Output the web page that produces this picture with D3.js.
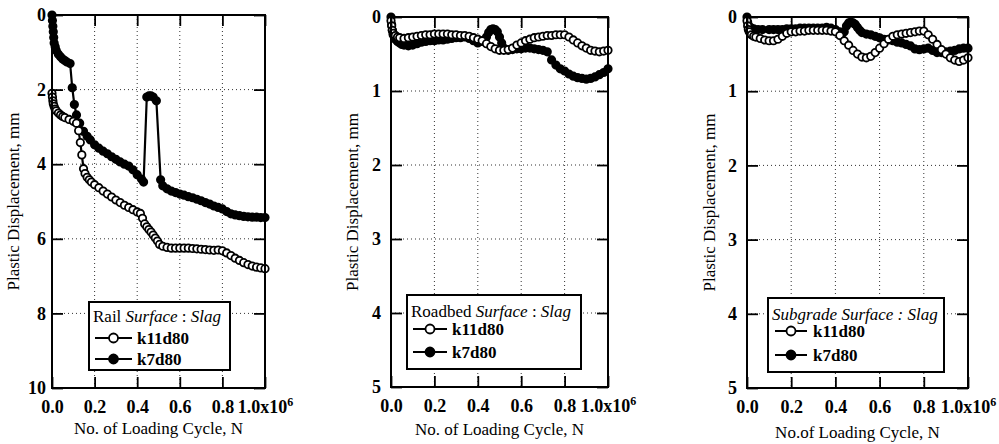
<!DOCTYPE html>
<html>
<head>
<meta charset="utf-8">
<script src="https://cdn.jsdelivr.net/npm/d3@7"></script>
<style>
    body { margin: 0; background: #fff; }
</style>
</head>
<body>
<div id="chart"></div>
<script>
// x values are loading cycles in millions, y values are plastic displacement in mm
const xTicks = [0, 0.2, 0.4, 0.6, 0.8, 1.0];
const railTicks = [0, 2, 4, 6, 8, 10];
const smallTicks = [0, 1, 2, 3, 4, 5];
const seriesNames = ["k11d80", "k7d80"];

// Rail surface
const railK11N = [0, 0.002, 0.004, 0.006, 0.01, 0.015, 0.02, 0.03, 0.04, 0.05, 0.06, 0.08, 0.1, 0.115, 0.125, 0.133, 0.14, 0.148, 0.155, 0.165, 0.175, 0.185, 0.2, 0.22, 0.24, 0.26, 0.28, 0.3, 0.32, 0.34, 0.36, 0.38, 0.4, 0.415, 0.425, 0.435, 0.445, 0.455, 0.465, 0.475, 0.485, 0.495, 0.505, 0.52, 0.54, 0.56, 0.58, 0.6, 0.62, 0.64, 0.66, 0.68, 0.7, 0.72, 0.74, 0.76, 0.78, 0.8, 0.82, 0.84, 0.86, 0.88, 0.9, 0.92, 0.94, 0.96, 0.98, 1.0];
const railK11D = [2.1, 2.2, 2.3, 2.38, 2.45, 2.52, 2.57, 2.63, 2.68, 2.72, 2.75, 2.8, 2.85, 2.9, 3.1, 3.42, 3.75, 4.12, 4.25, 4.35, 4.42, 4.48, 4.55, 4.63, 4.72, 4.8, 4.88, 4.96, 5.03, 5.1, 5.16, 5.22, 5.28, 5.32, 5.45, 5.6, 5.68, 5.75, 5.82, 5.9, 5.98, 6.06, 6.15, 6.2, 6.23, 6.25, 6.25, 6.25, 6.25, 6.25, 6.26, 6.27, 6.28, 6.29, 6.3, 6.31, 6.3, 6.32, 6.38, 6.45, 6.52, 6.58, 6.64, 6.69, 6.73, 6.76, 6.78, 6.8];
const railK7N = [0, 0.002, 0.004, 0.006, 0.008, 0.01, 0.015, 0.02, 0.03, 0.04, 0.05, 0.06, 0.07, 0.085, 0.095, 0.105, 0.115, 0.13, 0.148, 0.165, 0.18, 0.2, 0.22, 0.24, 0.26, 0.28, 0.3, 0.32, 0.34, 0.36, 0.38, 0.4, 0.42, 0.43, 0.445, 0.455, 0.465, 0.475, 0.49, 0.51, 0.52, 0.54, 0.56, 0.58, 0.6, 0.62, 0.64, 0.66, 0.68, 0.7, 0.72, 0.74, 0.76, 0.78, 0.8, 0.82, 0.84, 0.86, 0.88, 0.9, 0.92, 0.94, 0.96, 0.98, 1.0];
const railK7D = [0, 0.15, 0.3, 0.45, 0.6, 0.75, 0.85, 0.95, 1.05, 1.12, 1.18, 1.22, 1.26, 1.3, 1.95, 2.4, 2.68, 2.9, 3.12, 3.25, 3.35, 3.48, 3.57, 3.65, 3.72, 3.8, 3.87, 3.94, 4.0, 4.05, 4.15, 4.28, 4.4, 4.48, 2.2, 2.17, 2.17, 2.2, 2.3, 4.42, 4.58, 4.66, 4.72, 4.76, 4.8, 4.83, 4.87, 4.9, 4.94, 4.98, 5.03, 5.07, 5.12, 5.16, 5.2, 5.27, 5.33, 5.36, 5.38, 5.4, 5.41, 5.42, 5.42, 5.43, 5.43];

// Roadbed surface
const roadK11N = [0, 0.003, 0.006, 0.01, 0.02, 0.03, 0.04, 0.06, 0.08, 0.1, 0.12, 0.14, 0.16, 0.18, 0.2, 0.22, 0.24, 0.26, 0.28, 0.3, 0.32, 0.34, 0.36, 0.38, 0.4, 0.42, 0.44, 0.46, 0.48, 0.5, 0.52, 0.54, 0.56, 0.58, 0.6, 0.62, 0.64, 0.66, 0.68, 0.7, 0.72, 0.74, 0.76, 0.78, 0.8, 0.82, 0.84, 0.86, 0.88, 0.9, 0.92, 0.94, 0.96, 0.98, 1.0];
const roadK11D = [0.05, 0.12, 0.18, 0.22, 0.25, 0.27, 0.28, 0.29, 0.28, 0.27, 0.26, 0.25, 0.24, 0.24, 0.23, 0.23, 0.23, 0.23, 0.24, 0.24, 0.25, 0.25, 0.26, 0.28, 0.3, 0.32, 0.36, 0.4, 0.43, 0.45, 0.45, 0.44, 0.42, 0.38, 0.35, 0.32, 0.3, 0.28, 0.27, 0.26, 0.25, 0.25, 0.24, 0.24, 0.24, 0.27, 0.31, 0.35, 0.39, 0.42, 0.45, 0.46, 0.47, 0.46, 0.45];
const roadK7N = [0, 0.003, 0.006, 0.01, 0.02, 0.03, 0.04, 0.05, 0.06, 0.08, 0.1, 0.12, 0.14, 0.16, 0.18, 0.2, 0.22, 0.24, 0.26, 0.28, 0.3, 0.32, 0.34, 0.36, 0.38, 0.4, 0.42, 0.44, 0.45, 0.46, 0.47, 0.48, 0.49, 0.5, 0.51, 0.52, 0.54, 0.56, 0.58, 0.6, 0.62, 0.64, 0.66, 0.68, 0.7, 0.72, 0.74, 0.76, 0.78, 0.8, 0.82, 0.84, 0.86, 0.88, 0.9, 0.92, 0.94, 0.96, 0.98, 1.0];
const roadK7D = [0, 0.1, 0.18, 0.24, 0.3, 0.33, 0.35, 0.37, 0.38, 0.39, 0.38, 0.36, 0.34, 0.33, 0.32, 0.32, 0.31, 0.31, 0.3, 0.29, 0.28, 0.28, 0.27, 0.29, 0.32, 0.35, 0.33, 0.27, 0.21, 0.17, 0.16, 0.17, 0.2, 0.27, 0.35, 0.42, 0.45, 0.44, 0.43, 0.43, 0.42, 0.42, 0.43, 0.44, 0.45, 0.47, 0.58, 0.65, 0.7, 0.73, 0.77, 0.8, 0.82, 0.83, 0.84, 0.83, 0.81, 0.78, 0.75, 0.7];

// Subgrade surface
const subK11N = [0, 0.003, 0.006, 0.01, 0.02, 0.03, 0.04, 0.06, 0.08, 0.1, 0.12, 0.14, 0.16, 0.18, 0.2, 0.22, 0.24, 0.26, 0.28, 0.3, 0.32, 0.34, 0.36, 0.38, 0.4, 0.42, 0.44, 0.46, 0.48, 0.5, 0.52, 0.54, 0.56, 0.58, 0.6, 0.62, 0.64, 0.66, 0.68, 0.7, 0.72, 0.74, 0.76, 0.78, 0.8, 0.82, 0.84, 0.86, 0.88, 0.9, 0.92, 0.94, 0.96, 0.98, 1.0];
const subK11D = [0.05, 0.12, 0.17, 0.2, 0.24, 0.26, 0.27, 0.29, 0.31, 0.32, 0.32, 0.3, 0.26, 0.22, 0.2, 0.2, 0.19, 0.19, 0.18, 0.18, 0.18, 0.18, 0.18, 0.19, 0.2, 0.25, 0.32, 0.38, 0.45, 0.5, 0.54, 0.55, 0.53, 0.48, 0.42, 0.36, 0.3, 0.26, 0.24, 0.23, 0.22, 0.21, 0.2, 0.19, 0.19, 0.24, 0.3, 0.37, 0.44, 0.5, 0.55, 0.58, 0.6, 0.58, 0.55];
const subK7N = [0, 0.003, 0.006, 0.01, 0.02, 0.03, 0.05, 0.07, 0.1, 0.12, 0.14, 0.16, 0.18, 0.2, 0.22, 0.24, 0.26, 0.28, 0.3, 0.32, 0.34, 0.36, 0.38, 0.4, 0.42, 0.43, 0.44, 0.45, 0.46, 0.47, 0.48, 0.49, 0.5, 0.51, 0.52, 0.54, 0.56, 0.58, 0.6, 0.62, 0.64, 0.66, 0.68, 0.7, 0.72, 0.74, 0.76, 0.78, 0.8, 0.82, 0.84, 0.86, 0.88, 0.9, 0.92, 0.94, 0.96, 0.98, 1.0];
const subK7D = [0, 0.07, 0.11, 0.13, 0.15, 0.16, 0.17, 0.17, 0.17, 0.17, 0.17, 0.17, 0.16, 0.16, 0.16, 0.15, 0.15, 0.15, 0.15, 0.15, 0.15, 0.14, 0.15, 0.17, 0.2, 0.23, 0.2, 0.12, 0.08, 0.07, 0.08, 0.1, 0.14, 0.18, 0.21, 0.23, 0.24, 0.26, 0.28, 0.3, 0.31, 0.32, 0.34, 0.35, 0.37, 0.39, 0.43, 0.44, 0.43, 0.42, 0.45, 0.48, 0.48, 0.47, 0.46, 0.45, 0.43, 0.42, 0.42];

const serif = '"Liberation Serif"';

function init() {
    const width = 999;
    const height = 444;

    const svg = d3.select("#chart")
                  .append("svg")
                  .attr("width", width)
                  .attr("height", height);

    const panels = [
        {
            left: 52, right: 265, top: 15, bottom: 388,
            yMax: 10, yTicks: railTicks, labelGap: 6, yTitleX: 19,
            xTitle: "No. of Loading Cycle, N", xTitleY: 434,
            open: d3.zip(railK11N, railK11D), filled: d3.zip(railK7N, railK7D),
            legend: { x: 89, y: 302, w: 141, h: 68, titleX: 93, titleY: 322, rows: [338, 359], lx0: 95, lx1: 132, tx: 137 },
            legendTitle: [["Rail ", false], ["Surface", true], [" : ", false], ["Slag", true]]
        },
        {
            left: 391, right: 608, top: 17, bottom: 387,
            yMax: 5, yTicks: smallTicks, labelGap: 10, yTitleX: 358,
            xTitle: "No. of Loading Cycle, N", xTitleY: 435,
            open: d3.zip(roadK11N, roadK11D), filled: d3.zip(roadK7N, roadK7D),
            legend: { x: 407, y: 295, w: 174, h: 74, titleX: 411, titleY: 317, rows: [329, 352], lx0: 413, lx1: 447, tx: 452 },
            legendTitle: [["Roadbed ", false], ["Surface", true], [" : ", false], ["Slag", true]]
        },
        {
            left: 747, right: 968, top: 17, bottom: 388,
            yMax: 5, yTicks: smallTicks, labelGap: 10, yTitleX: 715,
            xTitle: "No.of Loading Cycle, N", xTitleY: 438,
            open: d3.zip(subK11N, subK11D), filled: d3.zip(subK7N, subK7D),
            legend: { x: 768, y: 298, w: 176, h: 74, titleX: 772, titleY: 320, rows: [331, 355], lx0: 775, lx1: 807, tx: 813 },
            legendTitle: [["Subgrade Surface : Slag", true]]
        }
    ];

    panels.forEach(p => drawPanel(svg, p));

    svg.selectAll("text").style("font-family", serif).style("fill", "#000");
}

function drawPanel(svg, p) {
    const x = d3.scaleLinear().domain([0, 1]).range([p.left, p.right]);
    const y = d3.scaleLinear().domain([0, p.yMax]).range([p.top, p.bottom]);
    const g = svg.append("g");

    // dotted grid
    g.selectAll(".vgrid")
     .data(xTicks.slice(1, -1))
     .enter()
     .append("line")
     .attr("x1", d => x(d)).attr("x2", d => x(d))
     .attr("y1", p.top).attr("y2", p.bottom)
     .style("stroke", "#333")
     .style("stroke-width", 1)
     .style("stroke-dasharray", "1,3");

    g.selectAll(".hgrid")
     .data(p.yTicks.slice(1, -1))
     .enter()
     .append("line")
     .attr("x1", p.left).attr("x2", p.right)
     .attr("y1", d => y(d)).attr("y2", d => y(d))
     .style("stroke", "#333")
     .style("stroke-width", 1)
     .style("stroke-dasharray", "1,3");

    const line = d3.line().x(d => x(d[0])).y(d => y(d[1]));

    // filled series (k7d80) then open series (k11d80)
    [[p.filled, true], [p.open, false]].forEach(([pts, solid]) => {
        g.append("path")
         .datum(pts)
         .attr("d", line)
         .style("fill", "none")
         .style("stroke", "#000")
         .style("stroke-width", 2.2);
        g.selectAll(null)
         .data(pts)
         .enter()
         .append("circle")
         .attr("cx", d => x(d[0]))
         .attr("cy", d => y(d[1]))
         .attr("r", 3.7)
         .style("fill", solid ? "#000" : "#fff")
         .style("stroke", "#000")
         .style("stroke-width", 1.8);
    });

    // legend
    const L = p.legend;
    const lg = g.append("g");
    lg.append("rect")
      .attr("x", L.x).attr("y", L.y)
      .attr("width", L.w).attr("height", L.h)
      .style("fill", "#fff")
      .style("stroke", "#000")
      .style("stroke-width", 2);

    const title = lg.append("text")
                    .attr("x", L.titleX)
                    .attr("y", L.titleY)
                    .style("font-size", "17px");
    p.legendTitle.forEach(([t, it]) => {
        title.append("tspan").text(t).style("font-style", it ? "italic" : "normal");
    });

    seriesNames.forEach((name, i) => {
        const cy = L.rows[i];
        lg.append("line")
          .attr("x1", L.lx0).attr("x2", L.lx1)
          .attr("y1", cy).attr("y2", cy)
          .style("stroke", "#000")
          .style("stroke-width", 2);
        lg.append("circle")
          .attr("cx", (L.lx0 + L.lx1) / 2)
          .attr("cy", cy)
          .attr("r", 4.5)
          .style("fill", i === 0 ? "#fff" : "#000")
          .style("stroke", "#000")
          .style("stroke-width", 1.8);
        lg.append("text")
          .attr("x", L.tx)
          .attr("y", cy)
          .attr("dy", "0.36em")
          .style("font-size", "17px")
          .style("font-weight", "bold")
          .text(name);
    });

    // frame
    g.append("rect")
     .attr("x", p.left).attr("y", p.top)
     .attr("width", p.right - p.left)
     .attr("height", p.bottom - p.top)
     .style("fill", "none")
     .style("stroke", "#000")
     .style("stroke-width", 2);

    // inward ticks on all four sides
    const bottomAxis = g.append("g")
        .attr("transform", `translate(0,${p.bottom})`)
        .call(d3.axisBottom(x).tickValues(xTicks).tickSizeInner(-11).tickSizeOuter(0).tickPadding(12).tickFormat(d3.format(".1f")));
    const topAxis = g.append("g")
        .attr("transform", `translate(0,${p.top})`)
        .call(d3.axisTop(x).tickValues(xTicks).tickSizeInner(-11).tickSizeOuter(0).tickFormat(""));
    const leftAxis = g.append("g")
        .attr("transform", `translate(${p.left},0)`)
        .call(d3.axisLeft(y).tickValues(p.yTicks).tickSizeInner(-11).tickSizeOuter(0).tickPadding(p.labelGap).tickFormat(d3.format("d")));
    const rightAxis = g.append("g")
        .attr("transform", `translate(${p.right},0)`)
        .call(d3.axisRight(y).tickValues(p.yTicks).tickSizeInner(-11).tickSizeOuter(0).tickFormat(""));

    [bottomAxis, topAxis, leftAxis, rightAxis].forEach(a => {
        a.attr("font-size", 18).attr("font-family", null).attr("font-weight", "bold");
        a.select(".domain").remove();
        a.selectAll(".tick line").style("stroke-width", 1.8);
    });

    // last x label gets the x10^6 multiplier
    const last = bottomAxis.selectAll(".tick text").filter(d => d === 1);
    last.text(null);
    last.append("tspan").text("1.0x10");
    last.append("tspan").text("6").attr("dy", "-0.55em").style("font-size", "12px");

    // axis titles
    g.append("text")
     .attr("x", (p.left + p.right) / 2)
     .attr("y", p.xTitleY)
     .attr("text-anchor", "middle")
     .style("font-size", "17px")
     .text(p.xTitle);

    g.append("text")
     .attr("transform", `translate(${p.yTitleX},${(p.top + p.bottom) / 2}) rotate(-90)`)
     .attr("text-anchor", "middle")
     .style("font-size", "17px")
     .text("Plastic Displacement, mm");
}

window.onload = init;
</script>
</body>
</html>
